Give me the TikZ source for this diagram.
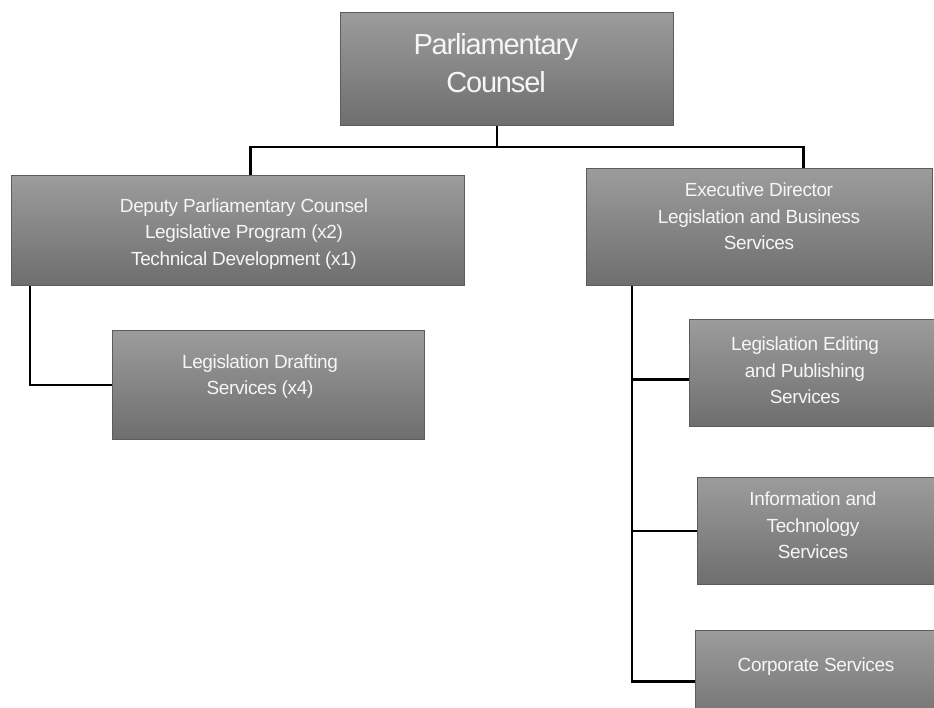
\documentclass[tikz,border=0pt]{standalone}
\usepackage{fontspec}
\newfontfamily\boxfont[LetterSpace=-2]{Liberation Sans}
\newfontfamily\bigfont[LetterSpace=-4]{Liberation Sans}
\definecolor{boxtop}{RGB}{156,156,156}
\definecolor{boxbot}{RGB}{110,110,110}
\definecolor{boxline}{RGB}{92,92,92}
\definecolor{boxtext}{RGB}{246,246,246}
\tikzset{
  box/.style={rectangle, draw=boxline, line width=1pt, top color=boxtop, bottom color=boxbot, anchor=north west, inner sep=0pt},
  txt/.style={text=boxtext, align=center, inner sep=0pt, font=\boxfont\fontsize{19}{26.5}\selectfont},
  bigtxt/.style={text=boxtext, align=center, inner sep=0pt, font=\bigfont\fontsize{29}{38}\selectfont},
  conn/.style={draw=black, line width=2.6pt}
}
\begin{document}
\begin{tikzpicture}[x=1pt,y=-1pt]
\useasboundingbox (0,0) rectangle (934,708);
\clip (0,0) rectangle (934,708);
% boxes
\node[box, minimum width=333pt, minimum height=113pt] (pc) at (340,12) {};
\node[box, minimum width=453pt, minimum height=110pt] (dpc) at (11,175) {};
\node[box, minimum width=312pt, minimum height=109pt] (lds) at (112,330) {};
\node[box, minimum width=346pt, minimum height=117pt] (ed) at (586,168) {};
\node[box, minimum width=260pt, minimum height=107pt] (lep) at (689,319) {};
\node[box, minimum width=260pt, minimum height=107pt] (its) at (697,477) {};
\node[box, minimum width=260pt, minimum height=102pt] (cs) at (695,630) {};
% texts
\node[bigtxt] (pcT) at (496,63.5) {Parliamentary\\Counsel};
\node[txt] (dpcT) at (244,234) {Deputy Parliamentary Counsel\\Legislative Program (x2)\\Technical Development (x1)};
\node[txt] (ldsT) at (260,376.5) {Legislation Drafting\\Services (x4)};
\node[txt] (edT) at (759,216.5) {Executive Director\\Legislation and Business\\Services};
\node[txt] (lepT) at (805,370.5) {Legislation Editing\\and Publishing\\Services};
\node[txt] (itsT) at (813,525.5) {Information and\\Technology\\Services};
\node[txt] (csT) at (816,667) {Corporate Services};
% connectors
\coordinate (hub) at (497,147);
\draw[conn] (hub |- pc.south) -- (hub);
\draw[conn] ([xshift=12.5pt]dpc.north) |- (hub);
\draw[conn] ([xshift=44pt]ed.north) |- (hub);
\draw[conn] ([xshift=19pt]dpc.south west) |- (lds.west);
\coordinate (edtap) at ([xshift=46pt]ed.south west);
\draw[conn] (edtap) |- ([yshift=-6.5pt]lep.west);
\draw[conn] (edtap) |- (its.west);
\draw[conn] (edtap) |- (cs.west);
\end{tikzpicture}
\end{document}
